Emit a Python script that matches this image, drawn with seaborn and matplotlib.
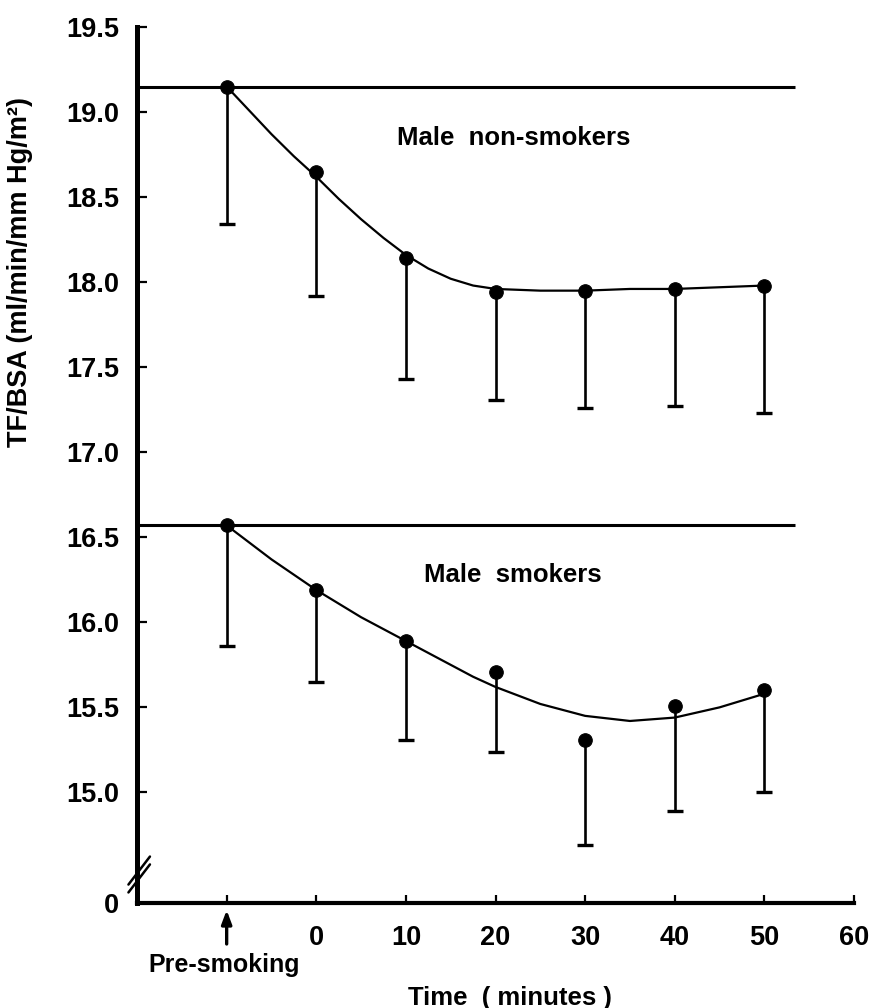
import numpy as np
import pandas as pd
import matplotlib
matplotlib.use("Agg")
import matplotlib.pyplot as plt
import seaborn as sns

# values
time = [-10, 0, 10, 20, 30, 40, 50]
nonsmoker_mean = [19.15, 18.65, 18.14, 17.94, 17.95, 17.96, 17.98]
nonsmoker_low = [18.34, 17.92, 17.43, 17.31, 17.26, 17.27, 17.23]
smoker_mean = [16.57, 16.19, 15.89, 15.71, 15.31, 15.51, 15.60]
smoker_low = [15.86, 15.65, 15.31, 15.24, 14.69, 14.89, 15.00]

# fitted curves as drawn in the figure
curve_time = [-10, -7.5, -5, -2.5, 0, 2.5, 5, 7.5, 10, 12.5, 15, 17.5, 20, 25, 30, 35, 40, 45, 50]
nonsmoker_curve = [19.15, 19.01, 18.87, 18.74, 18.62, 18.49, 18.37, 18.26, 18.16, 18.08, 18.02, 17.98, 17.96,
                   17.95, 17.95, 17.96, 17.96, 17.97, 17.98]
smoker_curve = [16.57, 16.47, 16.37, 16.28, 16.19, 16.11, 16.03, 15.96, 15.89, 15.82, 15.75, 15.68, 15.62,
                15.52, 15.45, 15.42, 15.44, 15.50, 15.58]

baselines = [19.15, 16.57]
yticks = [14.35, 15.0, 15.5, 16.0, 16.5, 17.0, 17.5, 18.0, 18.5, 19.0, 19.5]
ytick_labels = ["0", "15.0", "15.5", "16.0", "16.5", "17.0", "17.5", "18.0", "18.5", "19.0", "19.5"]
xticks = [-10, 0, 10, 20, 30, 40, 50, 60]
xtick_labels = ["", "0", "10", "20", "30", "40", "50", "60"]

sns.set_style("ticks")
plt.rcParams['font.family'] = ['Liberation Sans', 'DejaVu Sans']
plt.rcParams['font.weight'] = 'bold'
for k in ['text.color', 'axes.labelcolor', 'xtick.color', 'ytick.color', 'axes.edgecolor']:
    plt.rcParams[k] = 'black'

n = len(time)
m = len(curve_time)
pts = pd.DataFrame({
    'time': time * 2,
    'mean': nonsmoker_mean + smoker_mean,
    'low': nonsmoker_low + smoker_low,
    'group': ['non'] * n + ['smk'] * n,
})
curves = pd.DataFrame({
    'time': curve_time * 2,
    'value': nonsmoker_curve + smoker_curve,
    'group': ['non'] * m + ['smk'] * m,
})

fig = plt.figure(figsize=(8.74, 10.08), dpi=100)
ax = fig.add_axes([0.1568, 0.1042, 0.8203, 0.869])

for b in baselines:
    ax.hlines(b, -20, 53.4, color='black', lw=2.2)

sns.lineplot(data=curves, x='time', y='value', units='group', estimator=None,
             color='black', lw=1.6, ax=ax)
ax.vlines(pts['time'], pts['low'], pts['mean'], color='black', lw=1.9)
sns.scatterplot(data=pts, x='time', y='low', marker='_', s=130, linewidth=2.4,
                color='black', ax=ax)
sns.scatterplot(data=pts, x='time', y='mean', s=95, color='black',
                edgecolor='black', ax=ax, zorder=5)

ax.set_xlim(-20, 60)
ax.set_ylim(14.35, 19.5)
ax.set_xticks(xticks)
ax.set_xticklabels(xtick_labels)
ax.set_yticks(yticks)
ax.set_yticklabels(ytick_labels)
ax.tick_params(axis='both', direction='in', width=1.6, labelsize=19.5)
ax.tick_params(axis='y', length=7, pad=13)
ax.tick_params(axis='x', length=6, pad=16)
for lab in ax.get_xticklabels() + ax.get_yticklabels():
    lab.set_fontweight('bold')

sns.despine(ax=ax)
ax.spines['left'].set_linewidth(3.6)
ax.spines['bottom'].set_linewidth(3.0)

# axis break marks
for dy in (0.0, 0.009):
    ax.plot([-0.012, 0.018], [0.012 + dy, 0.044 + dy], transform=ax.transAxes,
            color='black', lw=1.8, clip_on=False, zorder=6)

ax.set_xlabel("Time  ( minutes )", fontsize=18.5, fontweight='bold')
ax.xaxis.set_label_coords(0.52, -0.108)
ax.xaxis.label.set_va('center')
ax.set_ylabel("TF/BSA (ml/min/mm Hg/m\u00b2)", fontsize=19.5, fontweight='bold')
ax.yaxis.set_label_coords(-0.163, 0.72)
ax.yaxis.label.set_va('center')

ax.annotate('', xy=(-10, -0.005), xytext=(-10, -0.05),
            xycoords=('data', 'axes fraction'), textcoords=('data', 'axes fraction'),
            arrowprops=dict(arrowstyle='-|>,head_width=0.3,head_length=0.8',
                            lw=2.4, color='black'))
ax.text(-10.3, -0.071, "Pre-smoking", transform=ax.get_xaxis_transform(),
        ha='center', va='center', fontsize=18, fontweight='bold')

ax.text(9.0, 18.85, "Male  non-smokers", fontsize=18.5, fontweight='bold', va='center')
ax.text(12.0, 16.28, "Male  smokers", fontsize=18.5, fontweight='bold', va='center')

fig.savefig("out.png", dpi=100)
